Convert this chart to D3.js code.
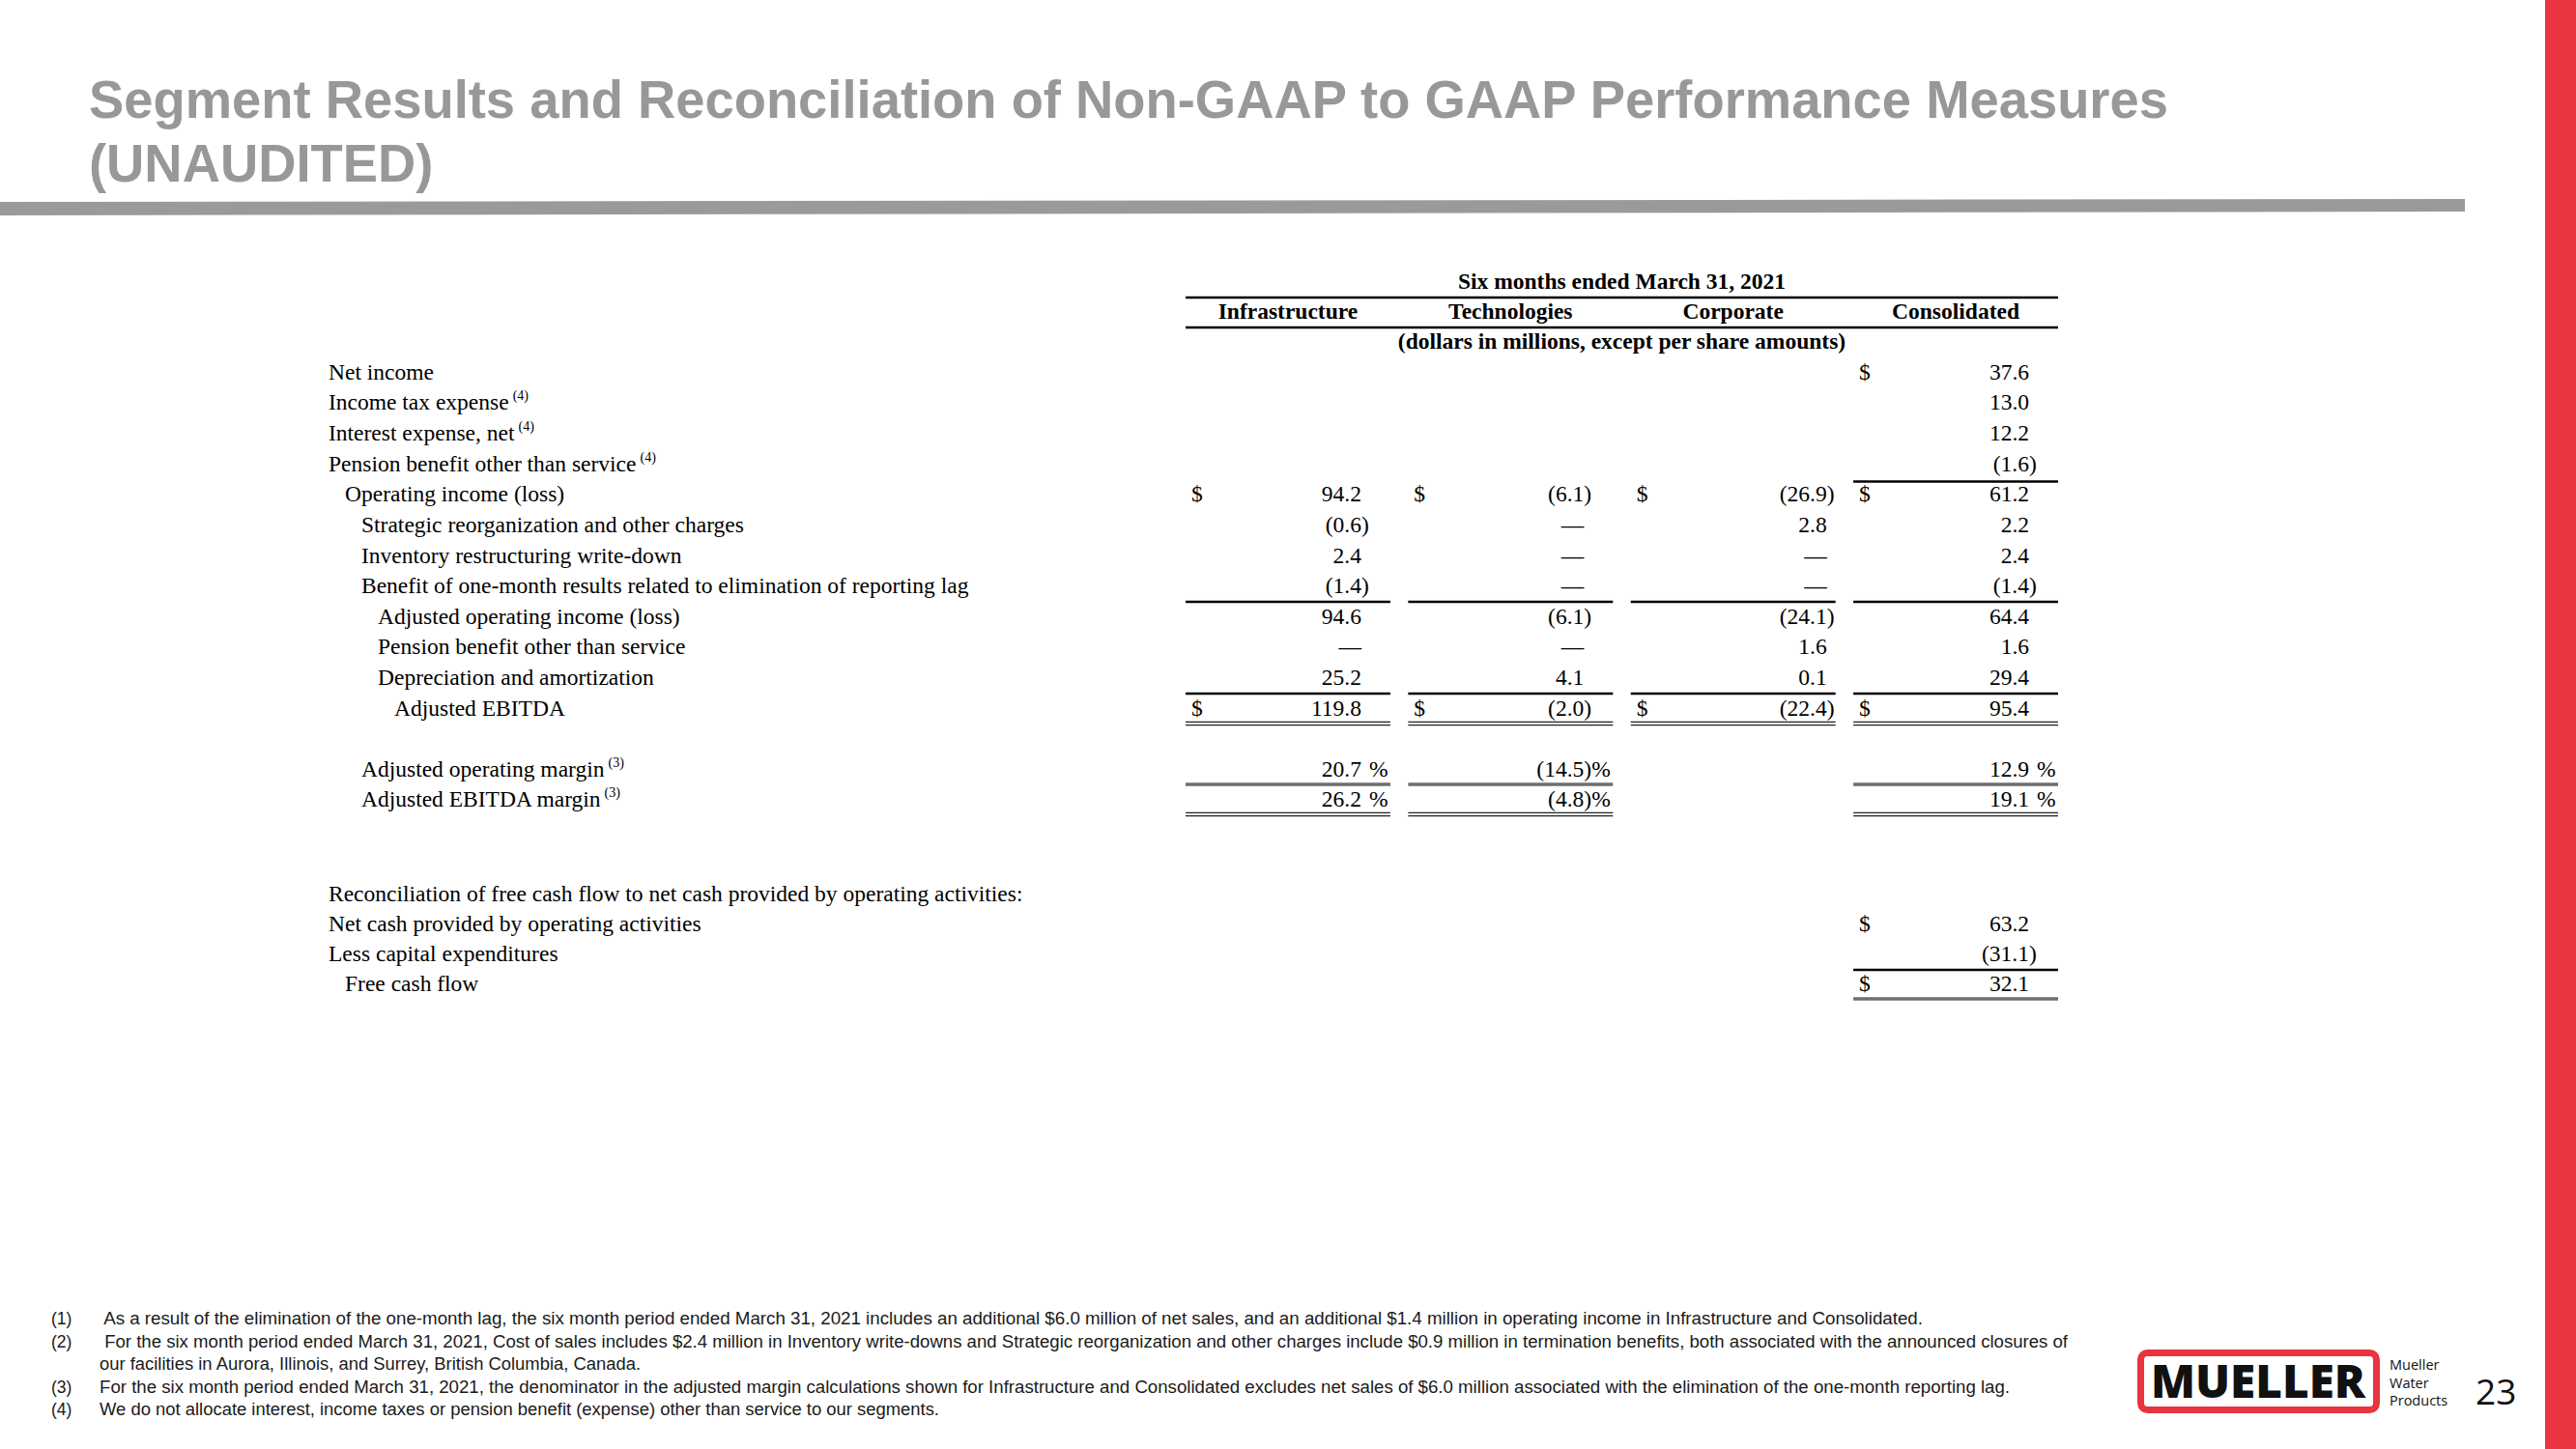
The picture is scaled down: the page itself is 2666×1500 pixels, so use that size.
<!DOCTYPE html>
<html>
<head>
<meta charset="utf-8">
<script src="https://cdn.jsdelivr.net/npm/d3@7"></script>
<style>
	body { margin: 0; background: #fff; }
	svg { display: block; }
	.title { font-family: "Liberation Sans", Arial, sans-serif; font-weight: bold; font-size: 56px; fill: #98979a; }
	.tbl { font-family: "Liberation Serif", "Times New Roman", serif; font-size: 23.5px; fill: #000; }
	.hdr { font-weight: bold; }
	.sup { font-size: 14px; }
	.note { font-family: "Liberation Sans", Arial, sans-serif; font-size: 17.5px; fill: #1a1a1a; white-space: pre; }
	.brand { font-family: "Open Sans", "Liberation Sans", sans-serif; fill: #111; }
</style>
</head>
<body>
<svg id="slide" width="2666" height="1500"></svg>
<script>

const titleLines = ["Segment Results and Reconciliation of Non-GAAP to GAAP Performance Measures", "(UNAUDITED)"];
const periodLabel = "Six months ended March 31, 2021";
const unitsLabel = "(dollars in millions, except per share amounts)";
const segments = ["Infrastructure", "Technologies", "Corporate", "Consolidated"];

const incomeLabels = [
	"Net income",
	"Income tax expense",
	"Interest expense, net",
	"Pension benefit other than service",
	"Operating income (loss)",
	"Strategic reorganization and other charges",
	"Inventory restructuring write-down",
	"Benefit of one-month results related to elimination of reporting lag",
	"Adjusted operating income (loss)",
	"Pension benefit other than service",
	"Depreciation and amortization",
	"Adjusted EBITDA"
];
const incomeNotes = ["", "(4)", "(4)", "(4)", "", "", "", "", "", "", "", ""];
const incomeLevels = [0, 0, 0, 0, 1, 2, 2, 2, 3, 3, 3, 4];
const incomeDollar = [1, 0, 0, 0, 1, 0, 0, 0, 0, 0, 0, 1];

// null = blank cell, 0 = dash
const infrastructure = [null, null, null, null, 94.2, -0.6, 2.4, -1.4, 94.6, 0, 25.2, 119.8];
const technologies   = [null, null, null, null, -6.1, 0, 0, 0, -6.1, 0, 4.1, -2.0];
const corporate      = [null, null, null, null, -26.9, 2.8, 0, 0, -24.1, 1.6, 0.1, -22.4];
const consolidated   = [37.6, 13.0, 12.2, -1.6, 61.2, 2.2, 2.4, -1.4, 64.4, 1.6, 29.4, 95.4];

const marginLabels = ["Adjusted operating margin", "Adjusted EBITDA margin"];
const marginNotes = ["(3)", "(3)"];
const marginInfrastructure = [20.7, 26.2];
const marginTechnologies = [-14.5, -4.8];
const marginCorporate = [null, null];
const marginConsolidated = [12.9, 19.1];

const cashLabels = [
	"Reconciliation of free cash flow to net cash provided by operating activities:",
	"Net cash provided by operating activities",
	"Less capital expenditures",
	"Free cash flow"
];
const cashLevels = [0, 0, 0, 1];
const cashDollar = [0, 1, 0, 1];
const cashConsolidated = [null, 63.2, -31.1, 32.1];

const footnoteNums = ["(1)", "(2)", "", "(3)", "(4)"];
const footnoteLines = [
	" As a result of the elimination of the one-month lag, the six month period ended March 31, 2021 includes an additional $6.0 million of net sales, and an additional $1.4 million in operating income in Infrastructure and Consolidated.",
	" For the six month period ended March 31, 2021, Cost of sales includes $2.4 million in Inventory write-downs and Strategic reorganization and other charges include $0.9 million in termination benefits, both associated with the announced closures of",
	"our facilities in Aurora, Illinois, and Surrey, British Columbia, Canada.",
	"For the six month period ended March 31, 2021, the denominator in the adjusted margin calculations shown for Infrastructure and Consolidated excludes net sales of $6.0 million associated with the elimination of the one-month reporting lag.",
	"We do not allocate interest, income taxes or pension benefit (expense) other than service to our segments."
];
const brandLines = ["Mueller", "Water", "Products"];
const pageNumber = "23";

document.addEventListener("DOMContentLoaded", function() {

	svg = d3.select('#slide');

	svg.append('rect')
		.attr('width', 2666)
		.attr('height', 1500)
		.attr('fill', '#fff');

	// red edge + grey rule
	svg.append('rect')
		.attr('x', 2634)
		.attr('y', 0)
		.attr('width', 32)
		.attr('height', 1500)
		.attr('fill', '#ea3540');

	svg.append('path')
		.attr('d', 'M0,209 L2551,206 L2551,219 L0,223 Z')
		.attr('fill', '#9a999b');

	// title
	titles = svg.selectAll('text.title')
		.data(titleLines)
		.enter()
		.append('text')
		.attr('class', 'title')
		.attr('x', 92)
		.attr('y', (d, i) => 122 + i * 66)
		.text(d => d);

	titleRatio = 2152 / titles.nodes()[0].getComputedTextLength();
	titles.attr('textLength', function() { return this.getComputedTextLength() * titleRatio; })
		.attr('lengthAdjust', 'spacingAndGlyphs');

	// scales
	x = d3.scaleBand()
		.domain(segments)
		.range([1227, 2130])
		.paddingInner(0.08);

	digitRight = function(seg) {
		return x(seg) + x.bandwidth() - (seg == 'Corporate' ? 9 : 30);
	};

	labelX = d3.scaleLinear().domain([0, 4]).range([340, 408]);
	yIncome = d3.scaleLinear().domain([0, incomeLabels.length - 1]).range([385, 733]);
	yMargin = d3.scaleLinear().domain([0, marginLabels.length - 1]).range([796, 827]);
	yCash = d3.scaleLinear().domain([0, cashLabels.length - 1]).range([925, 1018]);

	tbl = svg.append('g').attr('class', 'tbl');

	// header
	tbl.append('text')
		.attr('class', 'hdr')
		.attr('x', (x(segments[0]) + x(segments[3]) + x.bandwidth()) / 2)
		.attr('y', 291)
		.attr('dy', '0.33em')
		.attr('text-anchor', 'middle')
		.text(periodLabel);

	tbl.selectAll('text.colHead')
		.data(segments)
		.enter()
		.append('text')
		.attr('class', 'hdr colHead')
		.attr('x', d => x(d) + x.bandwidth() / 2)
		.attr('y', 322)
		.attr('dy', '0.33em')
		.attr('text-anchor', 'middle')
		.text(d => d);

	tbl.append('text')
		.attr('class', 'hdr')
		.attr('x', (x(segments[0]) + x(segments[3]) + x.bandwidth()) / 2)
		.attr('y', 353)
		.attr('dy', '0.33em')
		.attr('text-anchor', 'middle')
		.text(unitsLabel);

	[308, 339].forEach(function(yy) {
		tbl.append('line')
			.attr('x1', x(segments[0]))
			.attr('x2', x(segments[3]) + x.bandwidth())
			.attr('y1', yy)
			.attr('y2', yy)
			.attr('stroke', '#000')
			.attr('stroke-width', 2.5);
	});

	drawLabel = function(label, note, level, y) {
		t = tbl.append('text')
			.attr('x', labelX(level))
			.attr('y', y)
			.attr('dy', '0.33em')
			.text(label);
		if (note) {
			tbl.append('text')
				.attr('class', 'sup')
				.attr('x', labelX(level) + t.node().getComputedTextLength() + 4)
				.attr('y', y - 7)
				.attr('dy', '0.33em')
				.text(note);
		}
	};

	drawCell = function(seg, y, v, dollar, pct) {
		if (v == null) return;
		xr = digitRight(seg);
		tbl.append('text')
			.attr('x', xr)
			.attr('y', y)
			.attr('dy', '0.33em')
			.attr('text-anchor', 'end')
			.text(v === 0 ? '\u2014' : (v < 0 ? '(' : '') + d3.format('.1f')(Math.abs(v)));
		if (v < 0) {
			tbl.append('text')
				.attr('x', xr)
				.attr('y', y)
				.attr('dy', '0.33em')
				.text(')');
		}
		if (pct) {
			tbl.append('text')
				.attr('x', xr + 8)
				.attr('y', y)
				.attr('dy', '0.33em')
				.text('%');
		}
		if (dollar) {
			tbl.append('text')
				.attr('x', x(seg) + 6)
				.attr('y', y)
				.attr('dy', '0.33em')
				.text('$');
		}
	};

	drawRule = function(seg, y, kind) {
		x1 = x(seg);
		x2 = x(seg) + x.bandwidth();
		offsets = kind == 'double' ? [-1.6, 1.6] : [0];
		offsets.forEach(function(o) {
			tbl.append('line')
				.attr('x1', x1)
				.attr('x2', x2)
				.attr('y1', y + o)
				.attr('y2', y + o)
				.attr('stroke', kind == 'single' ? '#000' : (kind == 'gray' ? '#6e6e6e' : '#222'))
				.attr('stroke-width', kind == 'single' ? 2.5 : (kind == 'gray' ? 3.5 : 1.2));
		});
	};

	// income section
	incomeValues = {
		Infrastructure: infrastructure,
		Technologies: technologies,
		Corporate: corporate,
		Consolidated: consolidated
	};

	incomeLabels.forEach(function(label, i) {
		drawLabel(label, incomeNotes[i], incomeLevels[i], yIncome(i));
		segments.forEach(function(seg) {
			drawCell(seg, yIncome(i), incomeValues[seg][i], incomeDollar[i], false);
		});
	});

	drawRule('Consolidated', yIncome(4) - 13, 'single');
	segments.forEach(function(seg) {
		drawRule(seg, yIncome(8) - 15, 'single');
		drawRule(seg, yIncome(11) - 15, 'single');
		drawRule(seg, yIncome(11) + 16, 'double');
	});

	// margins
	marginValues = {
		Infrastructure: marginInfrastructure,
		Technologies: marginTechnologies,
		Corporate: marginCorporate,
		Consolidated: marginConsolidated
	};

	marginLabels.forEach(function(label, i) {
		drawLabel(label, marginNotes[i], 2, yMargin(i));
		segments.forEach(function(seg) {
			drawCell(seg, yMargin(i), marginValues[seg][i], false, true);
		});
	});

	segments.filter(s => s != 'Corporate').forEach(function(seg) {
		drawRule(seg, yMargin(0) + 16, 'gray');
		drawRule(seg, yMargin(1) + 16, 'double');
	});

	// free cash flow
	cashLabels.forEach(function(label, i) {
		drawLabel(label, '', cashLevels[i], yCash(i));
		drawCell('Consolidated', yCash(i), cashConsolidated[i], cashDollar[i], false);
	});

	drawRule('Consolidated', yCash(3) - 14, 'single');
	drawRule('Consolidated', yCash(3) + 16, 'gray');

	// footnotes
	yNote = d3.scaleLinear().domain([0, footnoteLines.length - 1]).range([1365, 1459]);
	noteEnds = [1990, 2140, 663, 2080, 972];

	notes = svg.append('g');

	notes.selectAll('text.num')
		.data(footnoteNums)
		.enter()
		.append('text')
		.attr('class', 'note num')
		.attr('x', 53)
		.attr('y', (d, i) => yNote(i))
		.attr('dy', '0.35em')
		.text(d => d);

	notes.selectAll('text.line')
		.data(footnoteLines)
		.enter()
		.append('text')
		.attr('class', 'note line')
		.attr('x', 103)
		.attr('y', (d, i) => yNote(i))
		.attr('dy', '0.35em')
		.attr('textLength', (d, i) => noteEnds[i] - 103)
		.attr('lengthAdjust', 'spacingAndGlyphs')
		.text(d => d);

	// logo
	logo = svg.append('g');

	logo.append('rect')
		.attr('x', 2215.5)
		.attr('y', 1400.5)
		.attr('width', 244)
		.attr('height', 59)
		.attr('rx', 7)
		.attr('fill', '#fff')
		.attr('stroke', '#e8343f')
		.attr('stroke-width', 7);

	logo.append('text')
		.attr('class', 'brand')
		.attr('x', 2337)
		.attr('y', 1447)
		.attr('text-anchor', 'middle')
		.attr('font-size', 48)
		.attr('font-weight', 800)
		.attr('textLength', 222)
		.attr('lengthAdjust', 'spacingAndGlyphs')
		.text('MUELLER');

	logo.selectAll('text.sub')
		.data(brandLines)
		.enter()
		.append('text')
		.attr('class', 'brand sub')
		.attr('x', 2473)
		.attr('y', (d, i) => 1418 + i * 18.5)
		.attr('font-size', 14.5)
		.text(d => d);

	logo.append('text')
		.attr('class', 'brand')
		.attr('x', 2562)
		.attr('y', 1454)
		.attr('font-size', 37)
		.text(pageNumber);
});
</script>
</body>
</html>
